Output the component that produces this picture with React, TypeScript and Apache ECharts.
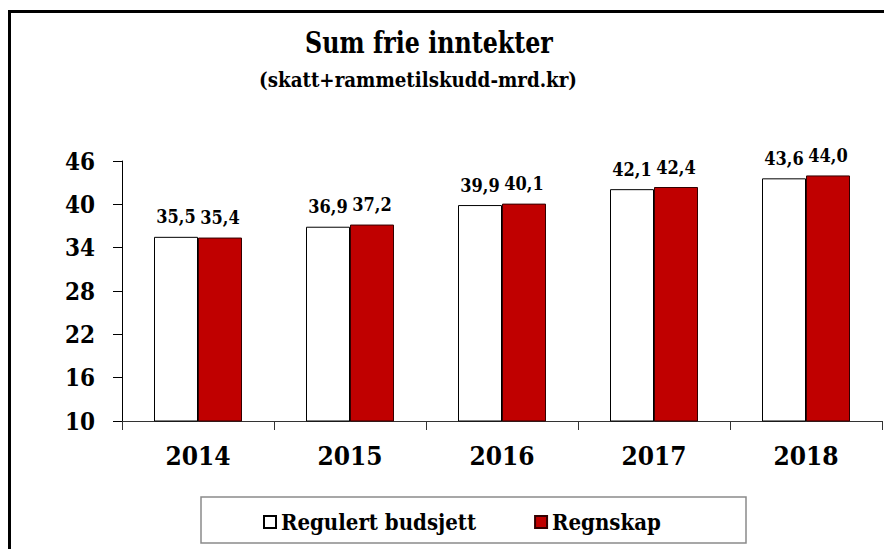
import React, { useEffect, useRef } from "react";
import * as echarts from "echarts";

const categories = ["2014", "2015", "2016", "2017", "2018"];
const budgetValues = [35.5, 36.9, 39.9, 42.1, 43.6];
const accountValues = [35.4, 37.2, 40.1, 42.4, 44.0];
const seriesNames = ["Regulert budsjett", "Regnskap"];
const titleText = "Sum frie inntekter";
const subtitleText = "(skatt+rammetilskudd-mrd.kr)";
const yMin = 10;
const yMax = 46;
const yInterval = 6;

const FONT = "DejaVu Serif Condensed";

const fmt = (v: number) => v.toFixed(1).replace(".", ",");

export default function App() {
  const ref = useRef<HTMLDivElement>(null);
  useEffect(() => {
    document.body.style.margin = "0";
    const chart = echarts.init(ref.current!, null, { renderer: "svg" });
    const label = {
      show: true,
      position: "top" as const,
      distance: 11,
      formatter: (p: any) => fmt(p.value),
      fontFamily: FONT,
      fontWeight: "bold" as const,
      fontSize: 18,
      color: "#000",
    };
    chart.setOption({
      animation: false,
      backgroundColor: "#fff",
      textStyle: { fontFamily: FONT },
      grid: { left: 122, right: 2, top: 161, bottom: 128 },
      graphic: [
        {
          type: "rect",
          shape: { x: 9.5, y: 11.5, width: 900, height: 560 },
          style: { fill: "none", stroke: "#000", lineWidth: 3 },
          z: 10,
        },
        {
          type: "text",
          x: 429,
          y: 43,
          scaleX: 0.82,
          style: {
            text: titleText,
            fontFamily: "DejaVu Serif",
            fontWeight: "bold",
            fontSize: 29,
            fill: "#000",
            textAlign: "center",
            textVerticalAlign: "middle",
          },
        },
        {
          type: "text",
          x: 418,
          y: 80,
          scaleX: 0.87,
          style: {
            text: subtitleText,
            fontFamily: "DejaVu Serif",
            fontWeight: "bold",
            fontSize: 21,
            fill: "#000",
            textAlign: "center",
            textVerticalAlign: "middle",
          },
        },
        {
          type: "rect",
          shape: { x: 201, y: 497, width: 545, height: 46 },
          style: { fill: "none", stroke: "#8a8a8a", lineWidth: 1.5 },
        },
      ],
      legend: {
        left: 258,
        top: 506,
        itemWidth: 12,
        itemHeight: 12,
        itemGap: 58,
        icon: "rect",
        textStyle: {
          fontFamily: FONT,
          fontWeight: "bold",
          fontSize: 22,
          color: "#000",
        },
        data: seriesNames,
      },
      xAxis: {
        type: "category",
        data: categories,
        axisLine: { lineStyle: { color: "#333", width: 1 } },
        axisTick: { show: true, length: 9, lineStyle: { color: "#333" } },
        axisLabel: {
          margin: 22,
          fontFamily: FONT,
          fontWeight: "bold",
          fontSize: 26,
          color: "#000",
        },
      },
      yAxis: {
        type: "value",
        min: yMin,
        max: yMax,
        interval: yInterval,
        splitLine: { show: false },
        axisLine: { show: true, lineStyle: { color: "#000", width: 1 } },
        axisTick: { show: true, length: 9, lineStyle: { color: "#000" } },
        axisLabel: {
          margin: 27,
          fontFamily: FONT,
          fontWeight: "bold",
          fontSize: 24,
          color: "#000",
        },
      },
      series: [
        {
          name: seriesNames[0],
          type: "bar",
          data: budgetValues,
          barWidth: 44,
          barGap: "0%",
          itemStyle: { color: "#fff", borderColor: "#000", borderWidth: 1 },
          label,
        },
        {
          name: seriesNames[1],
          type: "bar",
          data: accountValues,
          barWidth: 44,
          itemStyle: { color: "#c00000", borderColor: "#300", borderWidth: 1 },
          label,
        },
      ],
    });
    return () => chart.dispose();
  }, []);
  return (
    <div
      ref={ref}
      style={{ position: "absolute", left: 0, top: 0, width: 884, height: 549 }}
    />
  );
}
